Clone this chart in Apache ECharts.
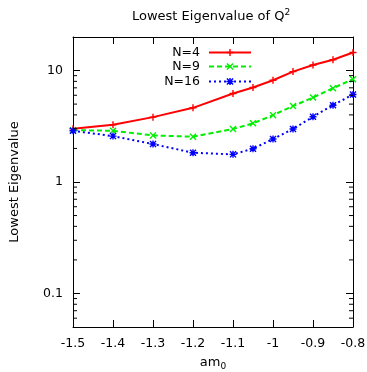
<!DOCTYPE html>
<html>
<head>
<meta charset="utf-8">
<script src="https://cdn.jsdelivr.net/npm/echarts@6/dist/echarts.min.js"></script>
<style>html,body{margin:0;padding:0;background:#fff;}#c{width:367px;height:372px;}</style>
</head>
<body>
<div id="c"></div>
<script>
var xValues = [-1.5, -1.4, -1.3, -1.2, -1.1, -1.05, -1.0, -0.95, -0.9, -0.85, -0.8];
var n4Values = [3.0, 3.26, 3.82, 4.63, 6.22, 7.04, 8.19, 9.79, 11.2, 12.5, 14.5];
var n9Values = [2.92, 2.88, 2.62, 2.55, 2.99, 3.36, 3.98, 4.80, 5.73, 6.95, 8.36];
var n16Values = [2.88, 2.58, 2.19, 1.83, 1.77, 1.99, 2.43, 2.99, 3.85, 4.89, 6.10];
var seriesNames = ['N=4', 'N=9', 'N=16'];
var minorTickValues = [0.06, 0.07, 0.08, 0.09, 0.2, 0.3, 0.4, 0.5, 0.6, 0.7, 0.8, 0.9, 2, 3, 4, 5, 6, 7, 8, 9];
var xMin = -1.5, xMax = -0.8, yMin = 0.05, yMax = 20;

var FONT = 'DejaVu Sans, sans-serif';
var plusPath = 'path://M4,0L6,0L6,4L10,4L10,6L6,6L6,10L4,10L4,6L0,6L0,4L4,4Z';
var crossPath = 'path://M1.4,0L5,3.6L8.6,0L10,1.4L6.4,5L10,8.6L8.6,10L5,6.4L1.4,10L0,8.6L3.6,5L0,1.4Z';
var starPath = 'path://M4,0L6,0L6,4L10,4L10,6L6,6L6,10L4,10L4,6L0,6L0,4L4,4Z M1.4,0L5,3.6L8.6,0L10,1.4L6.4,5L10,8.6L8.6,10L5,6.4L1.4,10L0,8.6L3.6,5L0,1.4Z';

function pairs(vals) { return xValues.map(function (x, i) { return [x, vals[i]]; }); }

var chart = echarts.init(document.getElementById('c'), null, {renderer: 'canvas'});

var xAxisBase = {
  type: 'value', min: xMin, max: xMax, interval: 0.1,
  axisLine: {show: true, onZero: false, lineStyle: {color: '#000', width: 1}},
  axisTick: {show: true, inside: true, length: 7, lineStyle: {color: '#000'}},
  splitLine: {show: false}
};
var yAxisBase = {
  type: 'log', logBase: 10, min: yMin, max: yMax,
  axisLine: {show: true, lineStyle: {color: '#000', width: 1}},
  axisTick: {show: true, inside: true, length: 7, lineStyle: {color: '#000'}},
  splitLine: {show: false}
};

function legendFor(name, top) {
  return {
    data: [name], right: 115, top: top, orient: 'vertical', align: 'right',
    itemWidth: 42, itemHeight: 9, padding: 0, selectedMode: false,
    textStyle: {fontFamily: FONT, fontSize: 12.5, color: '#000', padding: [0, 4, 0, 0]}
  };
}

var option = {
  animation: false,
  backgroundColor: '#fff',
  title: {
    text: 'Lowest Eigenvalue of Q{sup|2}',
    left: 132, top: 8, padding: 0,
    textStyle: {fontFamily: FONT, fontSize: 13, fontWeight: 'normal', color: '#000',
      rich: {sup: {fontFamily: FONT, fontSize: 9, color: '#000', padding: [0, 0, 8, 0]}}}
  },
  legend: [legendFor('N=4', 46), legendFor('N=9', 60), legendFor('N=16', 75)],
  grid: {left: 73, right: 14, top: 37, bottom: 45, containLabel: false, outerBoundsMode: 'none'},
  xAxis: [
    Object.assign({}, xAxisBase, {
      position: 'bottom',
      axisLabel: {fontFamily: FONT, fontSize: 12.5, color: '#000', margin: 10},
      name: 'am{sub|0}', nameLocation: 'middle', nameGap: 27,
      nameTextStyle: {fontFamily: FONT, fontSize: 13, color: '#000',
        rich: {sub: {fontFamily: FONT, fontSize: 9, color: '#000', padding: [8, 0, 0, 0]}}}
    }),
    Object.assign({}, xAxisBase, {position: 'top', axisLabel: {show: false}})
  ],
  yAxis: [
    Object.assign({}, yAxisBase, {
      position: 'left',
      axisLabel: {fontFamily: FONT, fontSize: 12.5, color: '#000', margin: 10,
        showMinLabel: false, showMaxLabel: false,
        formatter: function (v) { return String(+v.toPrecision(6)); }},
      name: 'Lowest Eigenvalue', nameLocation: 'middle', nameGap: 52, nameRotate: 90,
      nameTextStyle: {fontFamily: FONT, fontSize: 13, color: '#000'}
    }),
    Object.assign({}, yAxisBase, {position: 'right', axisLabel: {show: false}})
  ],
  series: [
    {
      name: seriesNames[0], type: 'line', data: pairs(n4Values),
      symbol: plusPath, symbolSize: 7, showAllSymbol: true,
      itemStyle: {color: '#ff0000'}, lineStyle: {color: '#ff0000', width: 2, type: 'solid'}
    },
    {
      name: seriesNames[1], type: 'line', data: pairs(n9Values),
      symbol: crossPath, symbolSize: 7, showAllSymbol: true,
      itemStyle: {color: '#00ee00'}, lineStyle: {color: '#00ee00', width: 2, type: [5, 3]}
    },
    {
      name: seriesNames[2], type: 'line', data: pairs(n16Values),
      symbol: starPath, symbolSize: 7, showAllSymbol: true,
      itemStyle: {color: '#0000ff'}, lineStyle: {color: '#0000ff', width: 2, type: [2, 3]}
    },
    {
      type: 'custom', silent: true, clip: false, z: 10,
      data: minorTickValues.map(function (v) { return [xMin, v]; }),
      renderItem: function (params, api) {
        var v = api.value(1);
        var pl = api.coord([xMin, v]);
        var pr = api.coord([xMax, v]);
        var st = {stroke: '#000', lineWidth: 1};
        return {
          type: 'group',
          children: [
            {type: 'line', shape: {x1: pl[0], y1: pl[1], x2: pl[0] + 4, y2: pl[1]}, style: st},
            {type: 'line', shape: {x1: pr[0] - 4, y1: pr[1], x2: pr[0], y2: pr[1]}, style: st}
          ]
        };
      }
    }
  ]
};
chart.setOption(option);
</script>
</body>
</html>
